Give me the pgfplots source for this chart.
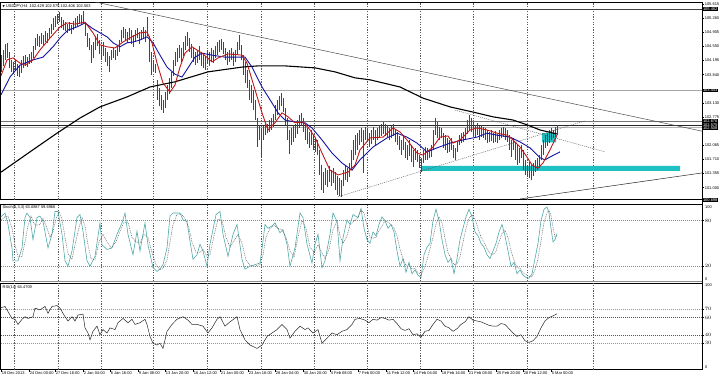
\documentclass[border=0pt]{standalone}
\usepackage{fontspec}
\setmainfont{Liberation Sans}
\newfontfamily\symf{DejaVu Sans}
\usepackage{pgfplots}
\pgfplotsset{compat=1.18}
\usepackage{pgfplotstable}

\definecolor{cyanbar}{RGB}{30,192,196}
\definecolor{mared}{RGB}{190,25,25}
\definecolor{mablue}{RGB}{20,20,160}
\definecolor{stochK}{RGB}{80,168,168}
\definecolor{barcol}{RGB}{70,70,70}
\newcommand{\tf}{\fontsize{4}{4.8}\selectfont}

\pgfplotstableread{
x lo hi
1 103.91 104.33
3 104.06 104.46
5 104.21 104.61
7 104.26 104.64
9 104.01 104.41
11 103.91 104.21
13 103.86 104.16
15 103.96 104.21
17 103.81 104.11
19 103.78 104.06
21 103.88 104.21
23 104.01 104.31
25 104.06 104.33
27 104.03 104.28
29 104.11 104.36
31 104.13 104.41
33 104.26 104.56
35 104.46 104.76
37 104.56 104.86
39 104.54 104.81
41 104.61 104.89
43 104.59 104.84
45 104.66 104.94
47 104.64 104.89
49 104.76 105.01
51 104.86 105.11
53 104.96 105.26
55 105.04 105.31
57 105.11 105.36
59 105.16 105.41
61 105.01 105.29
63 104.96 105.21
65 104.94 105.16
67 104.89 105.11
69 104.94 105.16
71 104.86 105.09
73 104.96 105.19
75 105.01 105.26
77 105.06 105.31
79 105.11 105.36
81 105.09 105.34
83 105.16 105.44
85 104.81 105.16
87 104.54 104.89
89 104.46 104.76
91 104.13 104.59
93 104.26 104.66
95 104.46 104.81
97 104.56 104.86
99 104.36 104.71
101 104.21 104.59
103 104.31 104.66
105 104.16 104.51
107 104.06 104.41
109 103.91 104.31
111 104.21 104.46
113 104.26 104.51
115 104.21 104.46
117 104.31 104.56
119 104.41 104.71
121 104.66 104.96
123 104.76 105.04
125 104.71 104.99
127 104.64 104.91
129 104.71 105.01
131 104.61 104.96
133 104.54 104.84
135 104.66 104.96
137 104.76 105.01
139 104.61 104.91
141 104.71 104.96
143 104.76 105.04
145 104.66 104.96
147 104.81 105.29
149 104.16 104.81
151 103.83 104.41
153 103.91 104.21
155 103.88 104.11
157 103.20 103.71
159 103.05 103.51
161 102.95 103.33
163 102.88 103.20
165 103.00 103.40
167 103.20 103.58
169 103.35 103.76
171 103.51 103.91
173 103.81 104.21
175 104.06 104.41
177 104.16 104.51
179 104.26 104.59
181 104.16 104.51
183 104.31 104.66
185 104.46 104.81
187 104.56 104.91
189 104.41 104.76
191 104.26 104.61
193 104.16 104.51
195 104.08 104.41
197 104.13 104.46
199 104.21 104.56
201 104.06 104.41
203 104.01 104.33
205 103.96 104.31
207 104.11 104.46
209 104.06 104.41
211 104.16 104.51
213 104.13 104.46
215 104.26 104.56
217 104.33 104.66
219 104.41 104.71
221 104.46 104.74
223 104.36 104.66
225 104.21 104.51
227 104.08 104.41
229 104.16 104.46
231 104.21 104.51
233 104.06 104.41
235 104.16 104.46
237 104.33 104.66
239 104.46 104.84
241 104.21 104.59
243 103.83 104.33
245 103.63 104.16
247 103.51 103.96
249 103.20 103.71
251 103.13 103.58
253 102.95 103.45
255 102.70 103.20
257 102.02 102.75
259 102.20 102.58
261 101.77 102.50
263 102.20 102.55
265 102.32 102.65
267 102.37 102.60
269 102.40 102.70
271 102.45 102.75
273 102.52 102.85
275 102.70 103.08
277 102.83 103.20
279 102.95 103.30
281 103.05 103.38
283 102.90 103.25
285 102.58 103.00
287 102.20 102.75
289 101.85 102.45
291 102.07 102.50
293 102.15 102.58
295 102.25 102.60
297 102.35 102.70
299 102.50 102.83
301 102.55 102.88
303 102.40 102.75
305 102.20 102.58
307 102.10 102.50
309 102.00 102.40
311 102.07 102.45
313 101.95 102.32
315 101.90 102.25
317 101.82 102.20
319 101.32 101.95
321 100.94 101.57
323 100.87 101.39
325 101.07 101.49
327 101.02 101.44
329 101.14 101.54
331 101.04 101.44
333 101.12 101.49
335 100.94 101.39
337 100.82 101.29
339 100.79 101.24
341 100.76 101.19
343 101.04 101.44
345 101.19 101.57
347 101.14 101.49
349 101.27 101.62
351 101.44 101.95
353 101.70 102.20
355 101.82 102.32
357 101.95 102.37
359 102.07 102.45
361 102.15 102.50
363 101.37 102.45
365 102.20 102.52
367 102.15 102.50
369 102.02 102.37
371 102.10 102.45
373 102.20 102.52
375 102.05 102.45
377 102.20 102.50
379 102.27 102.58
381 102.30 102.60
383 102.35 102.65
385 102.30 102.60
387 102.27 102.58
389 102.20 102.50
391 102.25 102.55
393 102.30 102.60
395 102.15 102.45
397 102.07 102.40
399 101.95 102.30
401 101.82 102.20
403 101.95 102.32
405 101.75 102.15
407 101.70 102.07
409 101.80 102.20
411 101.65 102.07
413 101.52 101.95
415 101.70 102.00
417 101.65 101.95
419 101.49 101.82
421 101.39 101.75
423 101.62 101.95
425 101.70 102.02
427 101.70 102.00
429 101.75 101.95
431 101.77 102.07
433 101.95 102.45
435 102.32 102.75
437 102.25 102.65
439 102.20 102.52
441 102.25 102.50
443 102.00 102.37
445 101.95 102.32
447 101.87 102.25
449 101.90 102.20
451 101.95 102.25
453 101.75 102.07
455 101.70 102.00
457 101.90 102.15
459 102.07 102.32
461 102.12 102.37
463 102.15 102.40
465 102.20 102.50
467 102.35 102.70
469 102.45 102.83
471 102.40 102.75
473 102.30 102.65
475 102.25 102.58
477 102.32 102.63
479 102.20 102.55
481 102.27 102.58
483 102.25 102.52
485 102.20 102.50
487 102.12 102.45
489 102.15 102.40
491 102.17 102.45
493 102.12 102.37
495 102.15 102.42
497 102.12 102.35
499 102.20 102.45
501 102.25 102.50
503 102.27 102.52
505 102.20 102.50
507 102.15 102.45
509 101.95 102.32
511 101.77 102.20
513 101.95 102.25
515 101.70 102.15
517 101.57 102.07
519 101.62 102.00
521 101.75 102.07
523 101.44 101.95
525 101.32 101.70
527 101.27 101.57
529 101.24 101.64
531 101.19 101.57
533 101.29 101.62
535 101.39 101.70
537 101.44 101.75
539 101.49 101.82
541 101.70 102.07
543 101.82 102.20
545 102.00 102.32
547 102.05 102.37
549 102.12 102.45
551 102.20 102.50
553 102.25 102.45
555 102.27 102.52
557 102.32 102.58
}\bars

\pgfplotsset{
  mt/.style={
    scale only axis, width=701.5bp,
    xmin=0.5, xmax=702,
    clip mode=individual,
    axis line style={black, line width=0.5bp},
    ytick pos=right, yticklabel pos=right,
    tick align=outside, major tick length=2bp,
    tick style={black, line width=0.4bp},
    yticklabel style={font=\tf, anchor=west, inner sep=0.6bp},
    xtick=\empty,
    extra x ticks={14,58,101,153,207,261,314,367,420,473,527,593},
    extra x tick labels={},
    extra x tick style={grid=major, major tick length=0pt,
      major grid style={black!65, dash pattern=on 1.3bp off 1.3bp, line width=0.35bp}},
  },
}
\tikzset{hl/.style={anchor=west, fill=black, text=white, font=\tf, inner sep=0.5bp, xshift=0.3bp},
  edge label/.style={font=\tf, inner sep=0.6bp, xshift=2.3bp}}

\begin{document}
\begin{tikzpicture}
\useasboundingbox (0bp,0bp) rectangle (720bp,376bp);

% ---------------- main price panel ----------------
\begin{axis}[mt, at={(0.5bp,176.3bp)}, anchor=south west, height=197bp,
  ymin=100.698, ymax=105.648,
  ytick={101,101.355,101.71,102.065,102.775,103.13,103.84,104.195,104.55,104.905,105.26,105.615},
  yticklabels={101.000,101.355,101.710,102.065,102.775,103.130,103.840,104.195,104.550,104.905,105.260,105.615}]
\addplot[black!75, line width=0.5bp] coordinates {(0.5,105.482) (702,105.482)};
\addplot[black!35, line width=1.2bp] coordinates {(0.5,103.443) (702,103.443)};
\addplot[black!55, line width=0.5bp] coordinates {(0.5,102.676) (702,102.676)};
\addplot[black!85, line width=0.5bp] coordinates {(0.5,102.575) (702,102.575)};
\addplot[black!30, line width=0.6bp] coordinates {(0.5,102.508) (702,102.508)};
\addplot[fill=cyanbar, draw=none] coordinates {(422,101.42) (680,101.42) (680,101.545) (422,101.545) (422,101.42)};
\addplot[fill=cyanbar, draw=none] coordinates {(542,102.14) (556,102.14) (556,102.37) (542,102.37) (542,102.14)};
\addplot[black!70, line width=0.5bp] coordinates {(87,105.71) (702,102.42)};
\addplot[black!85, line width=0.5bp] coordinates {(520,100.716) (702,101.37)};
\addplot[black!70, line width=0.4bp, dash pattern=on 1bp off 1bp] coordinates {(338,100.77) (585,102.68)};
\addplot[black!70, line width=0.4bp, dash pattern=on 1bp off 1bp] coordinates {(455,102.95) (605,101.90)};
\addplot[draw=none, error bars/.cd, y dir=plus, y explicit, error mark=none,
  error bar style={draw=barcol, line width=0.85bp}]
  table[x=x, y=lo, y error expr=\thisrow{hi}-\thisrow{lo}] {\bars};
\addplot[black, line width=1.1bp] coordinates {
(1,101.39) (30,101.90) (57,102.37) (80,102.75) (100,103.03) (127,103.28) (150,103.53) (175,103.66)
(208,103.91) (242,104.03) (258,104.06) (285,104.06) (315,104.01) (335,103.91) (355,103.76) (370,103.71)
(400,103.53) (423,103.25) (450,103.03) (473,102.90) (493,102.78) (513,102.70) (527,102.58) (540,102.45) (557,102.35)};
\addplot[mablue, line width=0.9bp] coordinates {
(1,103.33) (10,103.78) (20,104.08) (33,104.21) (43,104.28) (53,104.54) (60,104.76) (68,104.96) (77,105.04)
(85,105.14) (92,105.01) (100,104.89) (107,104.79) (113,104.64) (120,104.54) (127,104.64) (133,104.66)
(140,104.71) (147,104.79) (153,104.64) (160,104.33) (167,104.03) (175,103.85) (182,103.78) (188,104.01)
(195,104.28) (202,104.38) (212,104.33) (225,104.28) (238,104.28) (245,104.28) (252,104.03) (262,103.53)
(272,103.13) (278,102.88) (285,102.70) (295,102.65) (305,102.63) (312,102.50) (322,102.20) (332,101.87)
(342,101.62) (352,101.44) (360,101.70) (373,102.02) (387,102.25) (397,102.37) (407,102.27) (417,102.12)
(427,101.90) (437,102.00) (450,102.12) (463,102.20) (477,102.27) (487,102.37) (497,102.32) (510,102.27)
(520,102.15) (530,102.00) (540,101.75) (545,101.70) (550,101.77) (560,101.90)};
\addplot[mared, line width=0.9bp] coordinates {
(1,103.81) (7,104.21) (13,104.26) (20,104.13) (25,104.08) (33,104.21) (40,104.46) (50,104.76) (60,105.04)
(67,105.14) (75,105.11) (85,105.16) (93,104.89) (100,104.59) (107,104.54) (115,104.51) (123,104.66)
(132,104.79) (140,104.89) (147,104.91) (152,104.64) (157,104.13) (163,103.63) (170,103.40) (175,103.58)
(180,104.03) (185,104.38) (192,104.54) (202,104.38) (212,104.16) (218,104.26) (228,104.36) (242,104.33)
(247,104.13) (253,103.63) (262,102.88) (268,102.45) (275,102.63) (282,102.88) (288,102.78) (295,102.63)
(303,102.65) (308,102.52) (315,102.27) (322,101.87) (330,101.44) (338,101.32) (348,101.39) (355,101.57)
(360,101.95) (370,102.25) (383,102.27) (393,102.50) (400,102.40) (407,102.20) (417,101.87) (423,101.82)
(433,102.02) (440,102.27) (448,102.30) (453,102.12) (460,102.20) (470,102.45) (477,102.50) (487,102.45)
(497,102.37) (507,102.32) (513,102.20) (520,102.02) (527,101.77) (532,101.57) (538,101.49) (543,101.62)
(550,101.95) (557,102.32)};
\node[anchor=west, font=\tf, inner sep=0pt] at (rel axis cs:0,1) [shift={(2bp,-3.2bp)}]
  {{\symf\fontsize{3}{3}\selectfont ▼}\ USDJPY,H4\ \ 102.429 102.575 102.406 102.503};
\node[hl] at (axis cs:702,105.482) {105.482};
\node[hl] at (axis cs:702,103.443) {103.443};
\node[hl] at (axis cs:702,102.676) {102.676};
\node[hl] at (axis cs:702,102.575) {102.575};
\node[hl] at (axis cs:702,102.508) {102.508};
\node[hl] at (axis cs:702,100.698) {100.698};
\end{axis}

% ---------------- stochastic panel ----------------
\begin{axis}[mt, at={(0.5bp,94.7bp)}, anchor=south west, height=76.6bp,
  ymin=0, ymax=101, ytick={20,80}]
\addplot[black!45, line width=0.35bp, dash pattern=on 1bp off 1bp] coordinates {(0.5,80) (702,80)};
\addplot[black!45, line width=0.35bp, dash pattern=on 1bp off 1bp] coordinates {(0.5,20) (702,20)};
\addplot[stochK, line width=0.6bp] coordinates {
(0,84) (5,90) (8,75) (12,44) (13,27) (18,27) (22,44) (25,84) (27,90) (30,84) (33,55) (37,84) (40,86) (43,79)
(48,44) (52,62) (55,92) (58,92) (62,62) (65,27) (68,20) (72,40) (77,84) (80,88) (83,66) (87,27) (90,20) (95,33)
(100,77) (102,48) (107,42) (112,44) (117,62) (122,77) (125,90) (128,62) (133,35) (137,66) (140,40) (145,77)
(148,48) (153,18) (157,13) (160,16) (163,22) (167,44) (170,86) (173,90) (180,90) (183,81) (187,79) (190,53)
(193,29) (197,35) (200,49) (203,40) (207,20) (210,49) (216,88) (220,92) (223,62) (228,33) (233,62) (237,75)
(242,29) (245,16) (250,20) (255,22) (260,24) (263,53) (265,75) (268,70) (272,73) (275,77) (280,64) (283,68)
(287,49) (290,20) (295,44) (300,90) (303,84) (307,49) (312,24) (315,49) (318,62) (322,18) (325,27) (330,62)
(333,90) (337,79) (340,27) (343,57) (347,81) (350,75) (353,88) (358,84) (361,96) (364,70) (367,55) (370,50)
(373,65) (376,60) (379,75) (382,85) (385,80) (388,70) (391,75) (394,65) (397,40) (400,20) (403,30) (406,12)
(409,25) (412,10) (415,15) (418,8) (421,5) (424,35) (427,45) (430,50) (433,80) (436,95) (439,80) (442,55)
(445,35) (448,25) (451,30) (454,10) (457,30) (460,55) (463,70) (466,85) (469,95) (472,85) (475,65) (478,60)
(481,50) (484,45) (487,35) (490,30) (493,40) (496,50) (499,65) (502,75) (505,60) (508,40) (511,20) (514,25)
(517,10) (520,15) (523,8) (526,5) (529,4) (532,10) (535,30) (538,50) (541,80) (544,95) (547,98) (549,90)
(551,70) (553,52) (555,55) (557,63)};
\addplot[black!60, line width=0.5bp, dash pattern=on 0.9bp off 0.9bp] coordinates {
(0,80) (5,85) (8,86) (12,70) (15,48) (18,33) (22,33) (25,52) (28,73) (31,86) (34,76) (37,74) (40,75) (43,83)
(47,70) (50,58) (53,66) (56,82) (59,92) (62,82) (65,58) (68,36) (72,29) (75,48) (79,71) (82,84) (85,73) (88,48)
(91,30) (95,28) (99,52) (103,62) (107,52) (111,44) (116,52) (120,66) (124,78) (128,78) (132,58) (136,52)
(140,50) (144,62) (148,58) (152,38) (156,22) (160,15) (163,17) (167,28) (170,52) (173,75) (177,88) (181,89)
(185,83) (189,70) (192,52) (196,38) (200,38) (203,42) (207,33) (210,35) (214,60) (218,82) (222,80) (226,58)
(230,45) (234,53) (238,62) (242,50) (246,28) (250,21) (255,20) (260,22) (263,35) (266,58) (270,70) (274,74)
(278,70) (282,68) (286,58) (290,40) (294,32) (298,58) (302,80) (306,70) (310,45) (314,38) (318,48) (321,40)
(325,30) (329,42) (333,68) (337,80) (340,60) (343,50) (347,60) (350,74) (354,80) (358,84) (361,94) (364,90)
(367,74) (370,58) (373,57) (376,58) (379,67) (382,73) (385,80) (388,78) (391,75) (394,70) (397,60) (400,42)
(403,30) (406,21) (409,22) (412,16) (415,17) (418,11) (421,9) (424,16) (427,28) (430,43) (433,58) (436,75)
(439,85) (442,77) (445,57) (448,38) (451,30) (454,22) (457,23) (460,32) (463,52) (466,70) (469,83) (472,88)
(475,82) (478,70) (481,58) (484,52) (487,43) (490,37) (493,35) (496,40) (499,52) (502,63) (505,67) (508,58)
(511,40) (514,28) (517,18) (520,17) (523,11) (526,9) (529,6) (532,6) (535,15) (538,30) (541,53) (544,78)
(547,90) (549,94) (551,86) (553,71) (555,59) (557,60)};
\node[anchor=west, font=\tf, inner sep=0pt] at (rel axis cs:0,1) [shift={(2bp,-2.8bp)}]
  {Stoch(5,3,3) 63.0887 59.6966};
\node[edge label, anchor=north west] at (axis cs:702,101) {100};
\node[edge label, anchor=south west] at (axis cs:702,0) {0};
\end{axis}

% ---------------- RSI panel ----------------
\begin{axis}[mt, at={(0.5bp,6.5bp)}, anchor=south west, height=86.7bp,
  ymin=-0.58, ymax=100.58, ytick={30,40,60,70},
  xtick={1,29,55,83,110,138,165,193,220,248,275,303,330,358,386,413,441,468,496,523,551},
  xticklabels={19 Dec 2013,24 Dec 00:00,27 Dec 16:00,2 Jan 04:00,6 Jan 16:00,9 Jan 08:00,13 Jan 20:00,16 Jan 12:00,21 Jan 00:00,23 Jan 16:00,28 Jan 04:00,30 Jan 20:00,4 Feb 08:00,7 Feb 00:00,11 Feb 12:00,14 Feb 04:00,18 Feb 16:00,21 Feb 08:00,25 Feb 20:00,28 Feb 12:00,5 Mar 00:00},
  xtick pos=left,
  xticklabel style={font=\tf, anchor=north west, inner sep=0.4bp, xshift=0.3bp}]
\addplot[black!40, line width=0.35bp, dash pattern=on 1bp off 1bp] coordinates {(0.5,70) (702,70)};
\addplot[black!65, line width=0.35bp, dash pattern=on 1bp off 1bp] coordinates {(0.5,60) (702,60)};
\addplot[black!65, line width=0.35bp, dash pattern=on 1bp off 1bp] coordinates {(0.5,40) (702,40)};
\addplot[black!40, line width=0.35bp, dash pattern=on 1bp off 1bp] coordinates {(0.5,30) (702,30)};
\addplot[black!85, line width=0.5bp] coordinates {
(0,71) (5,73) (8,67) (12,59) (15,58) (18,52) (22,58) (25,61) (28,59) (33,61) (35,71) (40,69) (45,73) (48,65)
(52,73) (57,74) (60,71) (65,61) (68,56) (72,61) (75,56) (78,63) (83,64) (85,48) (88,42) (90,34) (93,44) (97,50)
(100,40) (103,46) (107,42) (110,48) (115,46) (118,54) (123,59) (128,54) (132,58) (135,52) (140,54) (145,58)
(147,52) (150,38) (153,30) (157,28) (160,30) (163,24) (167,44) (172,52) (177,58) (183,61) (188,57) (192,52)
(197,52) (203,50) (208,42) (212,48) (217,58) (220,61) (225,50) (230,55) (237,61) (240,46) (245,34) (250,28)
(257,24) (262,28) (267,38) (272,42) (277,46) (282,52) (287,46) (290,36) (295,44) (300,50) (305,46) (308,48)
(313,42) (318,46) (322,30) (327,36) (332,42) (337,40) (342,44) (347,46) (352,52) (355,58) (360,59) (365,57)
(369,54) (373,58) (377,57) (381,60) (385,59) (389,57) (393,58) (397,53) (401,47) (405,45) (409,47) (413,40)
(417,41) (421,37) (425,44) (429,45) (433,52) (437,58) (441,56) (445,50) (449,48) (453,44) (457,47) (461,52)
(465,55) (469,61) (473,57) (477,56) (481,55) (485,53) (489,51) (493,50) (497,50) (501,53) (505,52) (509,47)
(513,42) (517,38) (521,40) (525,33) (529,31) (533,33) (537,38) (541,48) (545,56) (549,60) (553,62) (557,64.5)};
\node[anchor=west, font=\tf, inner sep=0pt] at (rel axis cs:0,1) [shift={(2bp,-4.3bp)}]
  {RSI(14) 64.4709};
\node[edge label, anchor=north west] at (axis cs:702,100.58) {100};
\node[edge label, anchor=south west] at (axis cs:702,-0.58) {0};
\end{axis}
\draw[black!45, line width=1.6bp] (0.5bp,94.4bp) -- (702bp,94.4bp);
\draw[black, line width=0.5bp] (702bp,6.5bp) -- (702bp,373.3bp);
\end{tikzpicture}
\end{document}
